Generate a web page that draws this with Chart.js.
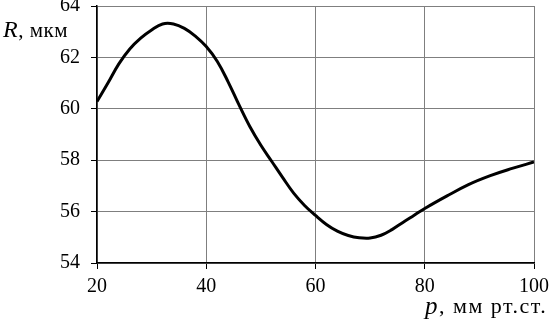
<!DOCTYPE html>
<html>
<head>
<meta charset="utf-8">
<script src="https://cdn.jsdelivr.net/npm/chart.js@4"></script>
<style>
  html, body { margin: 0; padding: 0; background: #fff; }
  #wrap { width: 551px; height: 323px; }
</style>
</head>
<body>
<div id="wrap"><canvas id="myChart" width="551" height="323"></canvas></div>
<script>
// data
const pressure = [20, 22, 24, 26, 28, 30, 32, 34, 36, 38, 40, 42, 44, 46, 48, 50, 52, 54, 56, 58, 60,
                  62, 64, 66, 68, 70, 72, 74, 76, 78, 80, 84, 88, 92, 96, 100];
const radius = [60.28, 61.0, 61.75, 62.33, 62.75, 63.07, 63.3, 63.3, 63.13, 62.83, 62.42, 61.85, 61.05,
                60.15, 59.3, 58.58, 57.95, 57.32, 56.72, 56.24, 55.85, 55.5, 55.24, 55.07, 54.98, 54.97,
                55.08, 55.3, 55.58, 55.85, 56.12, 56.6, 57.05, 57.4, 57.68, 57.93];
const xTicks = [20, 40, 60, 80, 100];
const yTicks = [54, 56, 58, 60, 62, 64];
const xTitle = ['p', ', мм рт.ст.'];
const yTitle = ['R', ', мкм'];

const serif = '"Liberation Serif", "DejaVu Serif", serif';

// axis titles drawn as text, italic letter + plain rest
const titles = {
  id: 'titles',
  afterDraw(chart) {
    const ctx = chart.ctx;
    ctx.save();
    ctx.fillStyle = '#000';
    ctx.textBaseline = 'middle';
    function put(parts, x, y, size, sp) {
      ctx.letterSpacing = sp + 'px';
      ctx.font = 'italic ' + (size + 3) + 'px ' + serif;
      ctx.fillText(parts[0], x, y);
      x += ctx.measureText(parts[0]).width;
      ctx.font = size + 'px ' + serif;
      ctx.fillText(parts[1], x, y);
    }
    put(yTitle, 3, 31, 21, 0.5);
    put(xTitle, 425, 307, 22, 1.5);
    ctx.restore();
  }
};

const data = {
  datasets: [{
    data: pressure.map((p, i) => ({x: p, y: radius[i]})),
    borderColor: '#000',
    borderWidth: 3,
    pointRadius: 0,
    tension: 0.4,
    fill: false
  }]
};

function noPad(s) {
  s.paddingTop = 0; s.paddingBottom = 0; s.paddingLeft = 0; s.paddingRight = 0;
}

const config = {
  type: 'line',
  data,
  options: {
    responsive: false,
    animation: false,
    layout: { padding: { top: 6, right: 17, left: 0, bottom: 0 } },
    plugins: { legend: { display: false }, tooltip: { enabled: false } },
    scales: {
      x: {
        type: 'linear',
        min: 20, max: 100,
        afterBuildTicks: s => { s.ticks = xTicks.map(v => ({value: v})); },
        afterFit: s => { s.height = 60; noPad(s); },
        grid: { color: '#7f7f7f', lineWidth: 1, tickLength: 6, tickColor: '#000' },
        border: { color: '#000', width: 1.5 },
        ticks: { color: '#000', font: { family: serif, size: 20 }, padding: 6, maxRotation: 0 }
      },
      y: {
        min: 54, max: 64,
        afterBuildTicks: s => { s.ticks = yTicks.map(v => ({value: v})); },
        afterFit: s => { s.width = 97; noPad(s); },
        grid: { color: '#7f7f7f', lineWidth: 1, tickLength: 6, tickColor: '#000' },
        border: { color: '#000', width: 1.5 },
        ticks: { color: '#000', font: { family: serif, size: 20 }, padding: 11 }
      }
    }
  },
  plugins: [titles]
};

const myChart = new Chart(document.getElementById('myChart'), config);
</script>
</body>
</html>
